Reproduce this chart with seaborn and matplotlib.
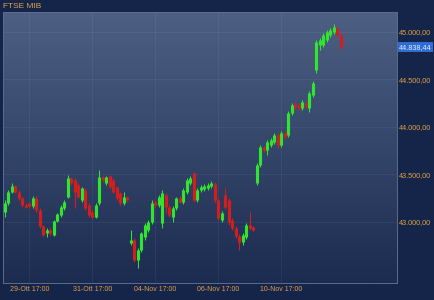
import numpy as np
import pandas as pd
import matplotlib
matplotlib.use("Agg")
import matplotlib.pyplot as plt
from matplotlib.colors import LinearSegmentedColormap
import seaborn as sns

title = "FTSE MIB"
opens = [43105, 43200, 43316, 43379, 43316, 43253, 43179, 43200, 43168,
         43253, 43126, 42958, 42884, 42916, 42863, 43011, 43074, 43147,
         43263, 43463, 43442, 43390, 43232, 43337, 43179, 43105, 43053,
         43200, 43474, 43411, 43484, 43442, 43368, 43305, 43200, 43263,
         42779, 42810, 42600, 42705, 42842, 42916, 43000, 43211, 43179,
         42990, 43284, 43158, 43053, 43147, 43253, 43211, 43316, 43411,
         43516, 43232, 43337, 43347, 43358, 43379, 43400, 43232, 43021,
         43284, 43232, 43021, 42937, 42853, 42789, 42842, 42968, 42947,
         43411, 43600, 43789, 43758, 43811, 43842, 43916, 43811, 43937,
         43916, 44147, 44242, 44232, 44200, 44253, 44200, 44337,
         44600, 44863, 44863, 44916, 44968, 45000, 45042, 44968]
closes = [43200, 43316, 43379, 43316, 43253, 43179, 43158, 43168, 43253,
          43126, 42958, 42863, 42916, 42884, 43011, 43084, 43158, 43211,
          43463, 43411, 43316, 43263, 43358, 43147, 43074, 43053, 43179,
          43474, 43442, 43474, 43368, 43316, 43253, 43200, 43263, 43232,
          42810, 42600, 42705, 42884, 42968, 43000, 43200, 43179, 43263,
          43305, 43158, 43074, 43147, 43253, 43211, 43337, 43442, 43463,
          43232, 43337, 43368, 43379, 43390, 43411, 43232, 43042, 43095,
          43158, 43000, 42937, 42853, 42789, 42863, 42968, 42937, 42916,
          43600, 43789, 43758, 43842, 43863, 43916, 43811, 43937, 43895,
          44147, 44232, 44211, 44200, 44263, 44221, 44358, 44463,
          44895, 44916, 44968, 45000, 45021, 45053, 44968, 44838.44]
highs = [43232, 43337, 43411, 43390, 43337, 43263, 43200, 43211, 43274,
         43274, 43147, 42968, 42937, 42937, 43021, 43095, 43179, 43232,
         43495, 43474, 43463, 43411, 43368, 43358, 43200, 43126, 43200,
         43547, 43484, 43484, 43495, 43463, 43379, 43316, 43316, 43274,
         42916, 42832, 42726, 42895, 42990, 43021, 43232, 43232, 43284,
         43337, 43305, 43179, 43168, 43263, 43274, 43358, 43463, 43484,
         43526, 43358, 43390, 43400, 43411, 43432, 43421, 43253, 43116,
         43358, 43253, 43042, 42958, 42874, 42884, 42990, 43105, 42958,
         43621, 43811, 43800, 43863, 43884, 43937, 43937, 43958, 43958,
         44168, 44253, 44263, 44253, 44284, 44274, 44379, 44484,
         44916, 44937, 44989, 45021, 45042, 45084, 45053, 44989]
lows = [43053, 43179, 43305, 43305, 43232, 43158, 43147, 43147, 43147,
        43105, 42937, 42853, 42842, 42863, 42853, 43000, 43053, 43126,
        43253, 43390, 43147, 43253, 43211, 43126, 43053, 43042, 43042,
        43179, 43421, 43390, 43358, 43305, 43232, 43179, 43179, 43221,
        42758, 42579, 42516, 42684, 42810, 42895, 42979, 43158, 43158,
        42937, 43095, 43053, 43000, 43126, 43200, 43190, 43295, 43390,
        43211, 43211, 43316, 43326, 43337, 43358, 43211, 43021, 43000,
        43137, 42968, 42916, 42832, 42705, 42758, 42821, 42916, 42905,
        43390, 43579, 43737, 43705, 43789, 43821, 43779, 43789, 43874,
        43895, 44126, 44189, 44179, 44179, 44200, 44158, 44316,
        44568, 44811, 44842, 44895, 44947, 44979, 44947, 44811]
tick_idx = [7, 25, 43, 61, 79]
tick_labels = ["29-Ott 17:00", "31-Ott 17:00", "04-Nov 17:00",
               "06-Nov 17:00", "10-Nov 17:00"]
y_ticks = [43000, 43500, 44000, 44500, 45000]
last_price = 44838.44

sns.set_theme(style="dark")
plt.rcParams["font.family"] = ["Liberation Sans", "DejaVu Sans"]

n = len(opens)
idx = np.arange(n)
o = np.array(opens, dtype=float)
c = np.array(closes, dtype=float)
direction = np.where(c >= o, "up", "down")

body = pd.DataFrame({
    "cid": np.repeat(idx, 2),
    "x": np.repeat(idx, 2),
    "price": np.column_stack([o, c]).ravel(),
    "dir": np.repeat(direction, 2),
})
wick = pd.DataFrame({
    "cid": np.repeat(idx, 2),
    "x": np.repeat(idx, 2),
    "price": np.column_stack([lows, highs]).ravel(),
    "dir": np.repeat(direction, 2),
})

pal = {"up": "#30e430", "down": "#d41e1e"}
orange = "#e0a048"
bg = "#15254a"

fig = plt.figure(figsize=(4.34, 3.0), dpi=100, facecolor=bg)
ax = fig.add_axes([3 / 434, 17 / 300, 394 / 434, 271 / 300])

xlim = (-0.57, 112.0)
ylim = (42358, 45210)
cmap = LinearSegmentedColormap.from_list("bg", ["#4d6084", "#34466a", "#1c2b50"])
ax.imshow(np.linspace(0, 1, 256).reshape(-1, 1), cmap=cmap, aspect="auto",
          extent=[xlim[0], xlim[1], ylim[0], ylim[1]], zorder=0)

sns.lineplot(data=wick, x="x", y="price", units="cid", estimator=None,
             hue="dir", palette=pal, hue_order=["up", "down"], sort=False,
             linewidth=0.75, legend=False, ax=ax, solid_capstyle="butt", zorder=2)
sns.lineplot(data=body, x="x", y="price", units="cid", estimator=None,
             hue="dir", palette=pal, hue_order=["up", "down"], sort=False,
             linewidth=2.25, legend=False, ax=ax, solid_capstyle="butt", zorder=3)

ax.set_xlim(*xlim)
ax.set_ylim(*ylim)
ax.set_xlabel("")
ax.set_ylabel("")
ax.set_facecolor("#1c2b50")
ax.set_axisbelow(True)
ax.grid(True, color="#ffffff", alpha=0.06, linewidth=0.6)

ax.set_xticks(tick_idx)
ax.set_xticklabels(tick_labels)
ax.set_yticks(y_ticks)
ax.set_yticklabels([f"{v:,.2f}".replace(",", "X").replace(".", ",").replace("X", ".")
                    for v in y_ticks])
ax.yaxis.tick_right()
ax.tick_params(axis="x", colors=orange, labelsize=5, length=0, pad=2.2)
ax.tick_params(axis="y", colors=orange, labelsize=5.2, length=0, pad=1.6)
for sp in ax.spines.values():
    sp.set_visible(True)
    sp.set_color("#5b6c8e")
    sp.set_linewidth(0.7)

fig.text(3 / 434, 1 - 6 / 300, title, color=orange, fontsize=6, va="center", ha="left")

lbl = f"{last_price:,.2f}".replace(",", "X").replace(".", ",").replace("X", ".")
ax.annotate(lbl, xy=(1.0, last_price), xycoords=("axes fraction", "data"),
            xytext=(1.6, 0), textcoords="offset points", va="center", ha="left",
            fontsize=5.2, color="#e6ecf8", zorder=5, annotation_clip=False,
            bbox=dict(boxstyle="square,pad=0.2", fc="#2f6cd4", ec="none"))

fig.savefig("out.png", dpi=100, facecolor=bg)
